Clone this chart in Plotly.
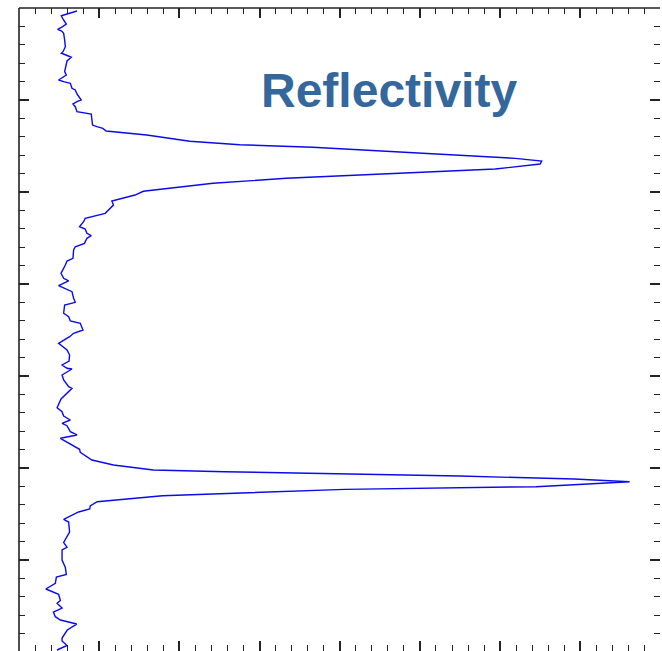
import plotly.graph_objects as go

# Reflectivity log versus depth (depth increases downward)
depth = [
    3.3, 6.5, 8.4, 11.2, 17.4, 20.3, 23.2, 25.0, 27.5, 34.8,
    42.1, 47.5, 49.2, 51.1, 53.6, 57.6, 63.8, 69.2, 72.8, 75.3,
    78.3, 80.1, 81.8, 87.3, 89.1, 93.5, 100.0, 101.8, 104.3, 107.3,
    112.7, 115.2, 121.7, 127.2, 129.0, 130.8, 133.7, 138.0, 144.9, 148.6,
    151.4, 156.2, 160.5, 163.4, 166.3, 169.6, 175.0, 179.0, 185.1, 190.5,
    199.2, 203.3, 209.8, 214.1, 219.6, 223.2, 228.6, 232.3, 237.7, 240.2,
    244.9, 247.5, 250.3, 255.8, 259.5, 263.0, 272.1, 275.0, 279.3, 288.4,
    293.8, 296.7, 301.8, 305.4, 308.4, 315.5, 319.9, 322.8, 331.8, 335.5,
    340.2, 342.7, 350.0, 353.6, 357.3, 364.5, 371.7, 377.2, 383.7, 388.0,
    391.6, 392.4, 398.9, 404.3, 411.6, 413.4, 419.9, 425.0, 434.5, 438.8,
    443.5, 447.8, 451.4, 454.0, 460.5, 464.1, 467.7, 473.2, 476.8, 479.7,
    482.9, 491.3, 496.7, 502.2, 504.0, 506.5, 508.7, 512.0, 514.9, 520.3,
    523.2, 530.1, 536.6, 541.3, 544.6, 547.8, 555.8, 558.7, 569.6, 581.0,
    586.2, 589.1, 600.0, 608.2, 615.8, 618.5, 625.3, 631.5, 637.3, 644.0,
    647.1, 652.2, 656.5, 661.6, 665.2, 669.6, 676.1, 684.8, 688.0, 692.9,
    697.8,
]
reflectivity = [
    7.23, 5.99, 5.28, 5.44, 5.90, 5.44, 4.82, 5.32, 5.57, 5.69,
    5.78, 5.49, 5.28, 5.86, 6.52, 5.99, 5.86, 5.69, 5.90, 5.44,
    4.94, 5.57, 6.40, 6.61, 7.02, 7.23, 7.76, 7.23, 6.73, 7.02,
    7.23, 9.01, 9.09, 9.17, 9.71, 10.46, 10.87, 15.93, 21.30, 27.52,
    36.62, 46.98, 56.50, 61.89, 65.19, 64.99, 59.40, 49.01, 33.32, 24.20,
    15.50, 14.47, 11.58, 11.78, 11.16, 10.75, 8.26, 8.05, 7.55, 8.26,
    8.47, 9.01, 8.47, 8.17, 7.02, 6.81, 6.73, 5.99, 5.78, 5.24,
    5.57, 6.19, 4.94, 5.78, 6.61, 6.81, 7.02, 5.69, 5.57, 6.19,
    6.40, 7.64, 7.98, 6.81, 6.31, 4.94, 5.99, 6.31, 6.24, 5.37,
    5.99, 6.61, 5.37, 5.57, 6.19, 6.61, 5.78, 5.24, 4.75, 5.37,
    5.57, 6.40, 5.37, 5.99, 6.40, 7.23, 5.16, 6.19, 6.89, 7.55,
    7.64, 9.09, 11.78, 16.75, 25.65, 40.68, 54.97, 69.25, 76.15, 64.50,
    40.68, 17.89, 9.75, 8.88, 8.82, 7.43, 5.57, 6.19, 6.31, 5.57,
    5.99, 5.37, 5.37, 5.78, 5.90, 4.66, 4.53, 3.35, 4.94, 5.16,
    4.75, 5.37, 4.29, 4.53, 5.16, 7.20, 6.02, 5.37, 5.37, 5.99,
    4.75,
]

FRAME = "#222222"

fig = go.Figure()
fig.add_trace(go.Scatter(
    x=reflectivity, y=depth, mode="lines",
    line=dict(color="#0b0be8", width=1.4),
    hoverinfo="skip", showlegend=False,
))

# Ticks on all four sides; the frame itself is drawn with shapes on the
# left and top edges only (the right and bottom edges run off the page).
axis_common = dict(
    showgrid=False, zeroline=False, showticklabels=False,
    showline=True, linecolor="rgba(0,0,0,0)", linewidth=1.5,
    mirror="allticks", ticks="inside", ticklen=10, tickwidth=1.5,
    tickcolor=FRAME,
)

fig.update_xaxes(
    range=[0, 79.94], tick0=0, dtick=10,
    minor=dict(ticks="inside", ticklen=6, tickwidth=1.3,
               tickcolor=FRAME, dtick=2, showgrid=False),
    **axis_common,
)
fig.update_yaxes(
    range=[698.9, 0], tick0=0, dtick=100,
    minor=dict(ticks="inside", ticklen=6, tickwidth=1.3,
               tickcolor=FRAME, dtick=20, showgrid=False),
    **axis_common,
)

fig.add_shape(type="line", xref="paper", yref="paper",
              x0=0, x1=0, y0=0, y1=1, line=dict(color=FRAME, width=1.6))
fig.add_shape(type="line", xref="paper", yref="paper",
              x0=0, x1=1, y0=1, y1=1, line=dict(color=FRAME, width=1.6))

fig.add_annotation(
    text="<b>Reflectivity</b>", xref="paper", yref="paper",
    x=0.577, y=0.871, xanchor="center", yanchor="middle",
    showarrow=False,
    font=dict(family="Liberation Sans, Arial, sans-serif", size=48,
              color="#34679c"),
)

fig.update_layout(
    width=662, height=651,
    margin=dict(l=18.5, r=0, t=8, b=0, pad=0),
    paper_bgcolor="white", plot_bgcolor="white",
)

fig.write_html("out.html")
